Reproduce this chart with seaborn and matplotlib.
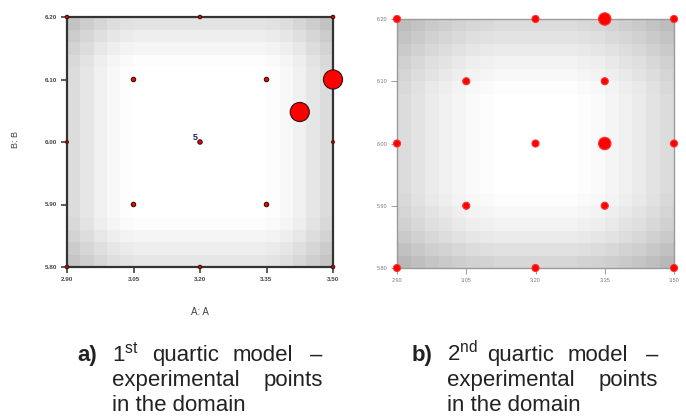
import numpy as np
import matplotlib
matplotlib.use("Agg")
import matplotlib.pyplot as plt
import seaborn as sns

# ── data ─────────────────────────────────────────────
x_ticks = [2.90, 3.05, 3.20, 3.35, 3.50]
y_ticks = [5.80, 5.90, 6.00, 6.10, 6.20]
x_ticklabels = ["2.90", "3.05", "3.20", "3.35", "3.50"]
y_ticklabels = ["5.80", "5.90", "6.00", "6.10", "6.20"]

# 1st quartic model design points (A, B, point size)
a_x = [2.90, 3.20, 3.50, 2.90, 3.50, 2.90, 3.20, 3.50, 3.05, 3.35, 3.05, 3.35, 3.20, 3.425, 3.50]
a_y = [5.80, 5.80, 5.80, 6.00, 6.00, 6.20, 6.20, 6.20, 5.90, 5.90, 6.10, 6.10, 6.00, 6.048, 6.10]
a_size = [6, 6, 6, 4, 4, 6, 6, 6, 10, 10, 10, 10, 10, 190, 190]

# 2nd quartic model design points
b_x = [2.90, 3.20, 3.50, 2.90, 3.50, 2.90, 3.20, 3.50, 3.05, 3.35, 3.05, 3.35, 3.20, 3.35, 3.35]
b_y = [5.80, 5.80, 5.80, 6.00, 6.00, 6.20, 6.20, 6.20, 5.90, 5.90, 6.10, 6.10, 6.00, 6.20, 6.00]
b_size = [26, 26, 26, 26, 26, 26, 26, 26, 26, 26, 26, 26, 26, 80, 80]

# grey level of the background (std. error shading) from edge to edge
a_shade_x = [0.86, 0.90, 0.94, 0.97, 0.99, 1, 1, 1, 1, 1, 1, 1, 1, 1, 1, 0.99, 0.97, 0.94, 0.90, 0.86]
a_shade_y = [0.90, 0.93, 0.96, 0.99, 1, 1, 1, 1, 1, 1, 1, 1, 1, 1, 1, 1, 0.99, 0.96, 0.93, 0.89]
b_shade_x = [0.86, 0.89, 0.92, 0.94, 0.96, 0.98, 0.99, 1, 1, 1, 1, 1, 1, 0.99, 0.98, 0.96, 0.94, 0.92, 0.89, 0.86]
b_shade_y = [0.84, 0.88, 0.92, 0.95, 0.97, 0.99, 1, 1, 1, 1, 1, 1, 1, 1, 0.99, 0.97, 0.95, 0.92, 0.89, 0.86]

sns.set_style("white")
plt.rcParams["font.family"] = ["Liberation Sans", "DejaVu Sans"]
plt.rcParams["mathtext.fontset"] = "custom"
plt.rcParams["mathtext.rm"] = "Liberation Sans"

fig = plt.figure(figsize=(6.86, 4.2), dpi=100)
ax_a = fig.add_axes([67 / 686, 1 - 267 / 420, 266 / 686, 250 / 420])
ax_b = fig.add_axes([397 / 686, 1 - 268 / 420, 277 / 686, 249 / 420])

extent = [x_ticks[0], x_ticks[-1], y_ticks[0], y_ticks[-1]]


def draw_panel(ax, sx, sy, px, py, ps, spine_col, spine_w, lab_col, edge_col):
    shade = np.outer(sy, sx)  # rows = B (bottom->top), cols = A
    ax.imshow(shade, extent=extent, origin="lower", cmap="gray", vmin=0, vmax=1,
              aspect="auto", interpolation="nearest", zorder=0)
    sns.scatterplot(x=px, y=py, size=ps, sizes=(min(ps), max(ps)), color="#ff0000",
                    edgecolor=edge_col, linewidth=0.8, legend=False, ax=ax,
                    zorder=5, clip_on=False)
    ax.set_xlim(extent[0], extent[1])
    ax.set_ylim(extent[2], extent[3])
    ax.set_xticks(x_ticks)
    ax.set_yticks(y_ticks)
    ax.set_xticklabels(x_ticklabels)
    ax.set_yticklabels(y_ticklabels)
    ax.tick_params(axis="both", which="both", direction="out", length=4,
                   width=spine_w * 0.7, color=spine_col, labelsize=4.5,
                   labelcolor=lab_col, bottom=True, left=True, pad=3)
    for sp in ax.spines.values():
        sp.set_color(spine_col)
        sp.set_linewidth(spine_w)
        sp.set_visible(True)
    ax.set_xlabel("")
    ax.set_ylabel("")


draw_panel(ax_a, a_shade_x, a_shade_y, a_x, a_y, a_size, "#333333", 1.6, "#444444", "#331111")
draw_panel(ax_b, b_shade_x, b_shade_y, b_x, b_y, b_size, "#9a9a9a", 1.0, "#777777", "#ff3333")
for t in ax_a.get_xticklabels() + ax_a.get_yticklabels():
    t.set_fontweight("bold")
ax_b.tick_params(labelsize=4)

# replicate count next to the centre point of panel a
ax_a.text(3.195, 6.00, "5", color="#1a1a66", fontsize=6.5, fontweight="bold",
          ha="right", va="bottom", zorder=6)

fig.text(200 / 686, 1 - 312 / 420, "A: A", ha="center", va="center", fontsize=7, color="#444444")
fig.text(15 / 686, 1 - 140 / 420, "B: B", ha="center", va="center", fontsize=6.5,
         color="#444444", rotation=90)

# ── captions (justified like the source document) ────
cap_size = 16
cap_col = "#222222"


def px_text(x, y, s, ha="left", **kw):
    fig.text(x / 686, 1 - y / 420, s, fontsize=cap_size, ha=ha, va="baseline",
             color=cap_col, **kw)


for dx, letter, num, sup in [(0, "a)", "1", "st"), (335, "b)", "2", "nd")]:
    px_text(77 + dx, 361, letter, fontweight="bold")
    px_text(112 + dx, 361, num + r"$^{\mathrm{" + sup + "}}$")
    px_text(152 + dx, 361, "quartic")
    px_text(233 + dx, 361, "model")
    px_text(323 + dx, 361, "\u2013", ha="right")
    px_text(112 + dx, 386, "experimental")
    px_text(323 + dx, 386, "points", ha="right")
    px_text(112 + dx, 411, "in the domain")

fig.savefig("out.png", dpi=100)
